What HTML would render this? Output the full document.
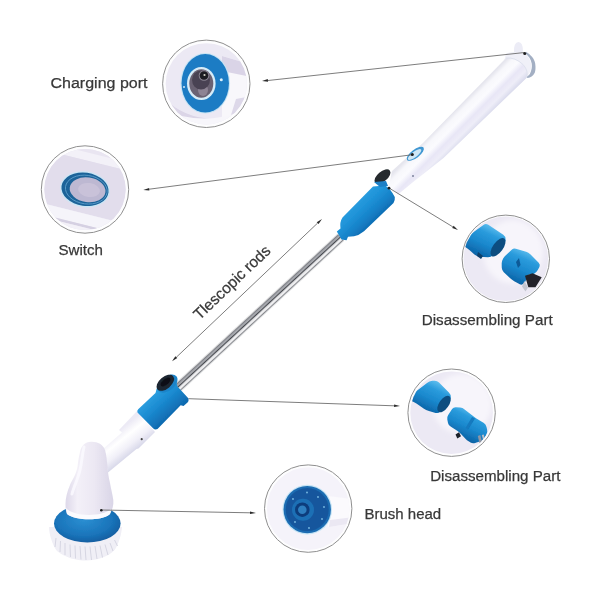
<!DOCTYPE html>
<html lang="en">
<head>
<meta charset="utf-8">
<title>Spin scrubber parts</title>
<style>
html,body{margin:0;padding:0;background:#fff;}
body{width:600px;height:600px;overflow:hidden;position:relative;}
svg{display:block;position:absolute;left:0;top:0;}
text{font-family:"Liberation Sans","DejaVu Sans",sans-serif;fill:#383838;}
</style>
</head>
<body>
<svg width="600" height="600" viewBox="0 0 600 600">
<defs>
  <filter id="soft05" x="-5%" y="-5%" width="110%" height="110%"><feGaussianBlur stdDeviation="0.45"/></filter>
  <filter id="soft" x="-10%" y="-10%" width="120%" height="120%"><feGaussianBlur stdDeviation="0.6"/></filter>
  <filter id="soft2" x="-10%" y="-10%" width="120%" height="120%"><feGaussianBlur stdDeviation="1.2"/></filter>
  <filter id="soft3" x="-20%" y="-20%" width="140%" height="140%"><feGaussianBlur stdDeviation="2.5"/></filter>
  <linearGradient id="gHandle" gradientUnits="userSpaceOnUse" x1="508" y1="58" x2="527" y2="77">
    <stop offset="0" stop-color="#e6e6ee"/>
    <stop offset="0.15" stop-color="#f7f7fb"/>
    <stop offset="0.38" stop-color="#fbfbfe"/>
    <stop offset="0.6" stop-color="#e8e6f6"/>
    <stop offset="0.8" stop-color="#eeedf8"/>
    <stop offset="1" stop-color="#d9daec"/>
  </linearGradient>
  <linearGradient id="gRod" x1="0" y1="1" x2="0" y2="0">
    <stop offset="0" stop-color="#5e6066"/>
    <stop offset="0.1" stop-color="#85878d"/>
    <stop offset="0.3" stop-color="#bcbec3"/>
    <stop offset="0.44" stop-color="#45474d"/>
    <stop offset="0.56" stop-color="#cfd0d3"/>
    <stop offset="0.7" stop-color="#f7f7f8"/>
    <stop offset="0.86" stop-color="#e2e3e6"/>
    <stop offset="0.95" stop-color="#505258"/>
    <stop offset="1" stop-color="#7a7c82"/>
  </linearGradient>
  <linearGradient id="gBlueU" gradientUnits="userSpaceOnUse" x1="356" y1="200" x2="376" y2="221">
    <stop offset="0" stop-color="#2a9ee0"/>
    <stop offset="0.35" stop-color="#1f93d8"/>
    <stop offset="0.7" stop-color="#1581c8"/>
    <stop offset="1" stop-color="#0f6cb3"/>
  </linearGradient>
  <linearGradient id="gBlueL" gradientUnits="userSpaceOnUse" x1="150" y1="396" x2="170" y2="418">
    <stop offset="0" stop-color="#2d9fe0"/>
    <stop offset="0.4" stop-color="#1b8cd2"/>
    <stop offset="1" stop-color="#0f68ae"/>
  </linearGradient>
  <linearGradient id="gTube" gradientUnits="userSpaceOnUse" x1="122" y1="428" x2="138" y2="448">
    <stop offset="0" stop-color="#eceaf5"/>
    <stop offset="0.35" stop-color="#ffffff"/>
    <stop offset="0.7" stop-color="#f1f0f8"/>
    <stop offset="1" stop-color="#d9d9ea"/>
  </linearGradient>
  <linearGradient id="gHead" x1="0" y1="0" x2="1" y2="0">
    <stop offset="0" stop-color="#ddd8e9"/>
    <stop offset="0.25" stop-color="#f3f0f8"/>
    <stop offset="0.6" stop-color="#ece8f3"/>
    <stop offset="1" stop-color="#d9d5e7"/>
  </linearGradient>
  <radialGradient id="gDisc" cx="0.45" cy="0.4" r="0.6">
    <stop offset="0" stop-color="#2b8fd2"/>
    <stop offset="0.7" stop-color="#1a74ba"/>
    <stop offset="1" stop-color="#135fa2"/>
  </radialGradient>
  <linearGradient id="gc31" gradientUnits="userSpaceOnUse" x1="490" y1="226" x2="476" y2="257">
    <stop offset="0" stop-color="#56b9ec"/>
    <stop offset="0.22" stop-color="#2a9bdc"/>
    <stop offset="0.55" stop-color="#1a88cd"/>
    <stop offset="0.85" stop-color="#0f6cb0"/>
    <stop offset="1" stop-color="#0c5e9f"/>
  </linearGradient>
  <linearGradient id="gc32" gradientUnits="userSpaceOnUse" x1="523" y1="250" x2="509" y2="282">
    <stop offset="0" stop-color="#56b9ec"/>
    <stop offset="0.22" stop-color="#2a9bdc"/>
    <stop offset="0.55" stop-color="#1a88cd"/>
    <stop offset="0.85" stop-color="#0f6cb0"/>
    <stop offset="1" stop-color="#0c5e9f"/>
  </linearGradient>
  <linearGradient id="gc41" gradientUnits="userSpaceOnUse" x1="436" y1="382" x2="422" y2="411">
    <stop offset="0" stop-color="#56b9ec"/>
    <stop offset="0.22" stop-color="#2a9bdc"/>
    <stop offset="0.55" stop-color="#1a88cd"/>
    <stop offset="0.85" stop-color="#0f6cb0"/>
    <stop offset="1" stop-color="#0c5e9f"/>
  </linearGradient>
  <linearGradient id="gc42" gradientUnits="userSpaceOnUse" x1="470" y1="410" x2="457" y2="437">
    <stop offset="0" stop-color="#56b9ec"/>
    <stop offset="0.22" stop-color="#2a9bdc"/>
    <stop offset="0.55" stop-color="#1a88cd"/>
    <stop offset="0.85" stop-color="#0f6cb0"/>
    <stop offset="1" stop-color="#0c5e9f"/>
  </linearGradient>
  <clipPath id="c1"><circle cx="206.300" cy="83.800" r="40.600"/></clipPath>
  <clipPath id="c2"><circle cx="85" cy="189.500" r="40.600"/></clipPath>
  <clipPath id="c3"><circle cx="505.8" cy="258.8" r="42.300"/></clipPath>
  <clipPath id="c4"><circle cx="451.6" cy="412.7" r="41.300"/></clipPath>
  <clipPath id="c5"><circle cx="308.2" cy="508.6" r="41.300"/></clipPath>
</defs>
<rect width="600" height="600" fill="#ffffff"/>

<!-- main product -->
<g id="product" filter="url(#soft05)">
  <!-- handle nub -->
  <path d="M514,52 Q513.500,42.500 518.500,42 Q523,42.500 523,51 L520,55 Z" fill="#ececf6"/>
  <!-- flange -->
  <path d="M506,53.500 Q513,50.300 524.750,53.500 C528,56 530.300,59.500 531,63.500 C531.500,67 531,70 529.300,73.500 C528.500,75 527,76 524.300,76.800 L519,80 L504.500,60 Z" fill="#f0f0f8"/>
  <path d="M526,51.800 C531,55 534.500,59 535.200,63.500 C535.800,68 535.500,70.500 534.750,72.700 C533,76 530.500,77.500 527.700,78.100 L524.800,77 C527.500,76.300 529.200,75.200 530,73.700 C531.700,70.200 532.200,67 531.700,63.500 C531,59.500 528.600,56 525.300,53.300 Z" fill="#a3afc3"/>
  <!-- handle body -->
  <path d="M506,58 L423,143 L392,171 L389,186 L398,194.500 L412.500,182.500 L443.500,158 L526.500,78 Q529,71 523,64.500 Q515,57 506,58 Z" fill="url(#gHandle)"/>
  <path d="M506,58 Q515,57 523,64.500 Q529,71 526.500,78" fill="none" stroke="#dfe2ee" stroke-width="1"/>
  <!-- switch on handle -->
  <ellipse cx="415.300" cy="153.800" rx="10.300" ry="4.200" transform="rotate(-37 415.300 153.800)" fill="#3f97d2"/>
  <ellipse cx="414.600" cy="154.500" rx="8.200" ry="2.700" transform="rotate(-37 414.600 154.500)" fill="#cfe7f6"/>
    <circle cx="413" cy="176" r="1" fill="#7c839c"/>
  <!-- rod -->
  <g transform="translate(341,237.200) rotate(137.300)">
    <rect x="0" y="-4.200" width="225" height="8.400" fill="url(#gRod)"/>
  </g>
  <!-- upper blue connector -->
  <path d="M373,186.500 L385,185.500 Q390,188 394.800,197 Q395.200,200.500 393.500,203 L364,231.300 Q359,235.500 354,236.200 L348,236.800 L346.500,240.300 L341.500,239.500 L336.800,231.500 L340.500,228.500 Q339.500,222 342.500,217.500 Z" fill="url(#gBlueU)"/>
  <!-- upper black clip -->
  <ellipse cx="382.500" cy="176.500" rx="9.500" ry="5" transform="rotate(-40 382.500 176.500)" fill="#26292f"/>
  <path d="M374,182 L380,187 L388,186 L386,181 Z" fill="#1a7fc6"/>
    <!-- white tube below lower connector -->
  <path d="M137.500,410.500 L119,430 L122,432.500 L103,449 L108,472.500 L136.500,449 L138.500,448.500 L155,432 Z" fill="url(#gTube)"/>
  <circle cx="141.700" cy="439.200" r="1.100" fill="#444"/>
  <!-- lower blue connector -->
  <path d="M155.500,393 L157.500,385.500 L176,380.500 L177.500,386.500 L188.500,398.500 Q189,401 187.500,402.500 L183.500,406 L180.700,405.300 L157.500,429 Q155,430 153.300,428.500 L137.500,412.500 Q136.800,410.500 138.200,409.200 Z" fill="url(#gBlueL)"/>
  <!-- lower black clip -->
  <ellipse cx="167.600" cy="383.600" rx="11.500" ry="7" transform="rotate(-40 167.600 383.600)" fill="#1b84c9"/>
  <ellipse cx="165.300" cy="382.800" rx="10.300" ry="6" transform="rotate(-40 165.300 382.800)" fill="#1f2530"/>
  <ellipse cx="165.500" cy="382" rx="6" ry="3" transform="rotate(-40 165.500 382)" fill="#0c1118"/>
  <!-- bristles -->
  <path d="M49,527 C49,533 52,545 57,551 C66,558 76,560.500 86,560.500 C97,560.500 108,557 115,549.500 C119,543 121.500,534 122,527 Z" fill="#f0eff6"/>
  <g stroke="#d3d2e0" stroke-width="0.900" fill="none">
    <path d="M56,538 L55,547"/><path d="M60.500,541 L60,552"/><path d="M65,543 L65,555"/><path d="M70,544.500 L70.500,557"/>
    <path d="M75,545.500 L75.500,558.500"/><path d="M80,546 L81,559.500"/><path d="M85,546.500 L86,560"/><path d="M90,546.500 L91.500,560"/>
    <path d="M95,546 L97,559"/><path d="M100,545.500 L102.500,557.500"/><path d="M105,544.500 L108,555"/><path d="M110,543 L113,551"/><path d="M114.500,540 L117.500,546"/>
  </g>
  <!-- blue disc -->
  <ellipse cx="87.300" cy="523.500" rx="33.300" ry="19" fill="url(#gDisc)"/>
  <!-- head -->
  <path d="M91.700,441.700 C85,441.500 81,446 80,452 C78.500,458 78,462 77.500,467 C76,475 72,480 70,485 C67,492 65.500,498 65.500,504 C65.500,509 66,512 67,514 C75,520.500 100,521.500 109.500,514.500 C112.500,510 113.800,505 113.300,500 C112.500,494 111,489 110,483 C108.500,477 108,472 107.500,468 C107,461 106.500,455 105,450 C103,444.500 98,441.800 91.700,441.700 Z" fill="url(#gHead)"/>
  <path d="M66,508 C72,516 100,518 111,509 C111,512 110.500,513.500 109.500,514.500 C100,521.500 75,520.500 67,514 Z" fill="#fbfbfe"/>
  <path d="M84,447 C82,455 82,462 80,470 C78,479 74,486 72,494" fill="none" stroke="#fbfaff" stroke-width="3" stroke-linecap="round" opacity="0.8"/>
  </g>

<!-- leader lines -->
<g stroke="#666" stroke-width="0.85" fill="none" stroke-linecap="butt">
  <line x1="524.5" y1="52.5" x2="268.0" y2="80.5"/>
  <line x1="412.5" y1="154.7" x2="149.2" y2="189.2"/>
  <line x1="389.0" y1="188.0" x2="452.9" y2="226.9"/>
  <line x1="188.5" y1="398.7" x2="394.0" y2="405.8"/>
  <line x1="101.5" y1="510.0" x2="250.0" y2="512.8"/>
  <line x1="176.4" y1="357.2" x2="317.6" y2="223.1"/>
</g>
<g fill="#2b2b2b">
  <polygon points="262.0,81.1 267.8,79.1 268.1,81.8"/>
  <polygon points="143.3,190.0 149.1,187.9 149.4,190.6"/>
  <polygon points="458.0,230.0 452.2,228.0 453.6,225.7"/>
  <polygon points="400.0,406.0 394.0,407.1 394.1,404.4"/>
  <polygon points="256.0,512.9 250.0,514.1 250.0,511.4"/>
  <polygon points="322.0,219.0 318.6,224.1 316.7,222.2"/>
  <polygon points="172.0,361.3 175.4,356.2 177.3,358.1"/>
</g>
<g fill="#1e1e1e">
  <circle cx="524.75" cy="53.40" r="1.5"/>
  <circle cx="412.30" cy="154.60" r="1.5"/>
  <circle cx="389.00" cy="188.20" r="1.4"/>
  <circle cx="101.30" cy="510.20" r="1.3"/>
</g>

<!-- detail circles -->
<g id="circ1">
  <circle cx="206.300" cy="83.800" r="43.700" fill="#fdfdfe"/>
  <circle cx="206.300" cy="83.800" r="40.600" fill="#ece9f4"/>
  <g clip-path="url(#c1)">
    <g filter="url(#soft)">
    <path d="M160,94 Q185,122 222,118 L222,135 L160,135 Z" fill="#dbd5e7"/>
    <path d="M222,56 L262,68 L262,114 L222,123 Z" fill="#f8f7fb"/>
    <path d="M222,56 L262,68 L262,79 L222,71 Z" fill="#dad4e7"/>
    <path d="M236,99 L262,94 L262,108 L231,115 Z" fill="#ddd8e9"/>
    <path d="M163,110 Q205,128 252,108 L255,135 L160,135 Z" fill="#f7f6fb"/>
    <ellipse cx="205.250" cy="83.250" rx="24.800" ry="30.300" fill="#c6e4f4"/>
    <ellipse cx="205.250" cy="83.250" rx="23.700" ry="29.200" fill="#1f7cc4"/>
    <ellipse cx="201.300" cy="83.500" rx="14.300" ry="16.500" fill="#d6ecf8"/>
    <ellipse cx="201.300" cy="83.500" rx="12" ry="14.300" fill="#6b6273"/>
    <ellipse cx="203" cy="90" rx="5" ry="6" fill="#8d8394"/>
    <ellipse cx="201" cy="80" rx="9" ry="9.500" fill="#4a4352"/>
    <circle cx="204" cy="75.500" r="5.300" fill="#8a8494"/>
    <circle cx="204" cy="75.500" r="4.300" fill="#1d1b20"/>
    <circle cx="204.500" cy="75" r="1.100" fill="#cfd0c4"/>
    <circle cx="221.300" cy="79.800" r="1.500" fill="#d8f0fb"/>
    <circle cx="184" cy="87" r="1" fill="#cfe9f8"/>
    </g>
  </g>
  <circle cx="206.300" cy="83.800" r="43.700" fill="none" stroke="#8f8f8f" stroke-width="1"/>
</g>
<g id="circ2">
  <circle cx="85" cy="189.500" r="43.700" fill="#fdfdfe"/>
  <circle cx="85" cy="189.500" r="40.600" fill="#e6e1ef"/>
  <g clip-path="url(#c2)">
    <g filter="url(#soft)">
    <g transform="rotate(14 85 190)">
      <rect x="30" y="140" width="120" height="14" fill="#e9e5f1"/>
      <rect x="30" y="153" width="120" height="8" fill="#f3f1f8"/>
      <rect x="30" y="161" width="120" height="52" fill="#e2ddec"/>
      <rect x="30" y="213" width="120" height="11" fill="#f5f4fa"/>
      <rect x="30" y="224" width="120" height="2.500" fill="#d5d0e2"/>
      <rect x="30" y="226.500" width="120" height="24" fill="#f3f1f8"/>
    </g>
    <ellipse cx="85" cy="189.300" rx="25" ry="18" transform="rotate(8 85 189.300)" fill="#cbe6f5"/>
    <ellipse cx="85" cy="189.300" rx="23.700" ry="16.600" transform="rotate(8 85 189.300)" fill="#1c6399"/>
    <ellipse cx="86.300" cy="189.600" rx="21" ry="14.300" transform="rotate(8 86.300 189.600)" fill="none" stroke="#5a9bc8" stroke-width="0.900"/>
    <ellipse cx="87.600" cy="189.800" rx="18" ry="12.300" transform="rotate(8 87.600 189.800)" fill="#bdb8d2"/>
    <ellipse cx="89" cy="190" rx="11" ry="7" transform="rotate(8 89 190)" fill="#c9c2d9"/>
    </g>
  </g>
  <circle cx="85" cy="189.500" r="43.700" fill="none" stroke="#8f8f8f" stroke-width="1"/>
</g>
<g id="circ3">
  <circle cx="505.800" cy="258.800" r="43.700" fill="#fdfdfe"/>
  <circle cx="505.800" cy="258.800" r="42.300" fill="#ece9f4"/>
  <g clip-path="url(#c3)">
    <ellipse cx="513" cy="252" rx="30" ry="32" fill="#f7f5fb" filter="url(#soft3)"/>
    <g filter="url(#soft)">
    <path d="M461.7,241.2 Q461.7,238.2 464.4,236.9 L468.1,235.2 Q470.8,234.0 473.3,232.2 L483.4,224.9 Q485.8,223.2 488.3,224.8 L503.3,234.8 Q505.8,236.5 505.6,239.5 L505.6,240.2 Q505.3,243.2 503.2,245.3 L493.0,255.2 Q490.8,257.3 487.8,257.2 L479.7,256.7 Q476.7,256.5 474.4,254.5 L469.7,250.2 Q467.5,248.2 464.9,246.7 L464.3,246.3 Q461.7,244.8 461.7,241.8 Z" fill="url(#gc31)"/>
    <ellipse cx="498" cy="247.300" rx="10.800" ry="5" transform="rotate(-54 498 247.300)" fill="#0b4d80"/>
    <path d="M478,252 L483,256 L481,259 L477,256 Z" fill="#0a3f6a"/>
    <path d="M502.3,260.4 Q503.0,258.0 504.8,256.3 L511.7,249.7 Q513.5,248.0 515.9,248.7 L526.1,251.8 Q528.5,252.5 530.3,254.3 L538.7,262.7 Q540.5,264.5 539.5,266.8 L539.0,267.7 Q538.0,270.0 536.3,271.9 L535.7,272.6 Q534.0,274.5 531.5,274.5 L529.5,274.5 Q527.0,274.5 526.6,277.0 L526.4,278.5 Q526.0,281.0 524.3,282.9 L523.7,283.6 Q522.0,285.5 519.8,284.3 L514.2,281.2 Q512.0,280.0 510.2,278.3 L503.8,272.2 Q502.0,270.5 501.8,268.0 L501.7,265.5 Q501.5,263.0 502.2,260.6 Z" fill="url(#gc32)"/>
    <path d="M516,262 L519,258 L520.500,265 L518,268 Z" fill="#0c5a98"/>
    <path d="M525,275.700 L532.500,273.200 L541.700,277.300 L535.500,287.300 L528.300,287.300 Z" fill="#222329"/>
    <path d="M524.500,281 L528,287.500 L525.500,291.500 L522,286.500 Z" fill="#c4c7d2"/>
    </g>
  </g>
  <circle cx="505.800" cy="258.800" r="43.700" fill="none" stroke="#8f8f8f" stroke-width="1"/>
</g>
<g id="circ4">
  <circle cx="451.600" cy="412.700" r="43.700" fill="#fdfdfe"/>
  <circle cx="451.600" cy="412.700" r="41.300" fill="#ece9f4"/>
  <g clip-path="url(#c4)">
    <ellipse cx="462" cy="404" rx="30" ry="30" fill="#f7f5fb" filter="url(#soft3)"/>
    <g filter="url(#soft)">
    <path d="M407.7,397.4 Q407.7,395.3 410.4,394.1 L412.4,393.2 Q415.2,392.0 417.5,390.2 L427.0,383.0 Q429.3,381.2 432.3,380.8 L433.9,380.7 Q436.8,380.3 439.0,382.5 L448.9,392.4 Q451.0,394.5 450.8,397.5 L450.7,397.7 Q450.5,400.7 448.5,402.9 L440.5,411.5 Q438.5,413.7 435.6,412.9 L428.9,411.1 Q426.0,410.3 423.6,408.6 L416.8,403.7 Q414.3,402.0 411.5,400.9 L410.5,400.6 Q407.7,399.5 407.7,397.4 Z" fill="url(#gc41)"/>
    <ellipse cx="444" cy="404" rx="9.600" ry="4.800" transform="rotate(-55 444 404)" fill="#0b4d80"/>
    <path d="M447.3,419.5 Q446.8,417.0 448.2,414.9 L452.1,409.1 Q453.5,407.0 456.0,407.2 L460.2,407.6 Q462.7,407.8 464.6,409.4 L472.4,415.5 Q474.3,417.0 476.4,418.4 L483.9,423.1 Q486.0,424.5 486.5,426.9 L487.1,429.6 Q487.7,432.0 486.5,434.2 L484.6,438.1 Q483.5,440.3 481.1,441.1 L475.1,442.9 Q472.7,443.7 470.5,442.4 L469.0,441.6 Q466.8,440.3 465.2,438.5 L461.0,433.9 Q459.3,432.0 457.2,430.7 L450.6,426.6 Q448.5,425.3 448.0,422.9 Z" fill="url(#gc42)"/>
    <path d="M472,417 L475,418.500 L468,430 L465.500,428 Z" fill="#1279be"/>
    <path d="M477.800,436 L480.300,435 L483,445.500 L480.300,446.300 Z" fill="#8f95a3"/>
    <path d="M481.800,435 L483.800,434.500 L485.500,442.500 L484,443.300 Z" fill="#b8bdc8"/>
    <path d="M455.500,434.500 L459,432.300 L461,436.300 L457.300,438.500 Z" fill="#1d222c"/>
    </g>
  </g>
  <circle cx="451.600" cy="412.700" r="43.700" fill="none" stroke="#8f8f8f" stroke-width="1"/>
</g>
<g id="circ5">
  <circle cx="308.200" cy="508.600" r="43.700" fill="#fdfdfe"/>
  <circle cx="308.200" cy="508.600" r="41.300" fill="#f5f3fa"/>
  <g clip-path="url(#c5)">
    <g filter="url(#soft)">
    <path d="M328,496 L353,499 L353,523 L328,527 Z" fill="#fbfafd"/>
    <path d="M330,520 L353,517 L353,523 L329,527 Z" fill="#ebe8f3"/>
    <circle cx="307.250" cy="509.600" r="24.800" fill="#c4e3f4"/>
    <circle cx="307.250" cy="509.600" r="23.700" fill="#1c6cb2"/>
    <circle cx="307.250" cy="509.600" r="21.500" fill="#13579d"/>
    <circle cx="303" cy="509.700" r="11" fill="#1f6fb5"/>
    <circle cx="302.300" cy="509.700" r="7.300" fill="#0c3d7c"/>
    <circle cx="302.300" cy="509.700" r="4.300" fill="#2f7fc0"/>
    <g fill="#7dbbe3">
      <circle cx="307" cy="492.500" r="0.900"/><circle cx="318" cy="497" r="0.900"/><circle cx="324" cy="507" r="0.900"/>
      <circle cx="322" cy="519" r="0.900"/><circle cx="309" cy="528" r="0.900"/><circle cx="295" cy="522" r="0.900"/><circle cx="293" cy="499" r="0.900"/>
    </g>
    </g>
  </g>
  <circle cx="308.200" cy="508.600" r="43.700" fill="none" stroke="#8f8f8f" stroke-width="1"/>
</g>

<!-- labels -->
<g font-size="15.500" stroke="#383838" stroke-width="0.250">
  <text x="50.500" y="87.500" textLength="97" lengthAdjust="spacingAndGlyphs">Charging port</text>
  <text x="58.500" y="255" textLength="44.500" lengthAdjust="spacingAndGlyphs">Switch</text>
  <text x="421.700" y="325" textLength="131" lengthAdjust="spacingAndGlyphs">Disassembling Part</text>
  <text x="430.200" y="481.200" textLength="130.300" lengthAdjust="spacingAndGlyphs">Disassembling Part</text>
  <text x="364.400" y="519.200" textLength="76.800" lengthAdjust="spacingAndGlyphs">Brush head</text>
  <text transform="translate(199.500,320.500) rotate(-43.600)" x="0" y="0" textLength="99.500" lengthAdjust="spacingAndGlyphs">Tlescopic rods</text>
</g>

</svg>
</body>
</html>
